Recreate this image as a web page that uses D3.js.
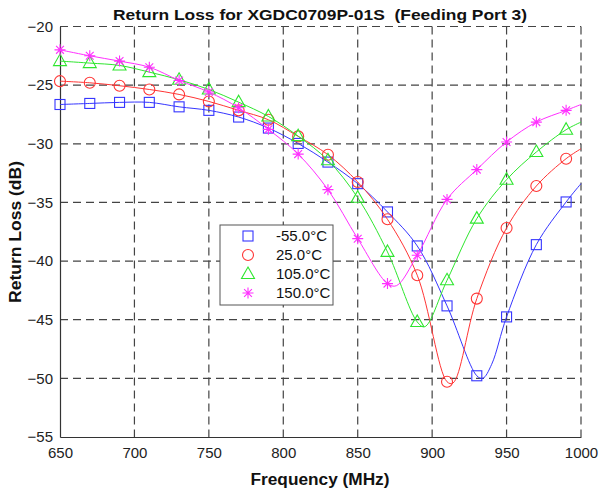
<!DOCTYPE html>
<html>
<head>
<meta charset="utf-8">
<script src="https://cdn.jsdelivr.net/npm/d3@7"></script>
<style>
  body { margin: 0; background: #fff; }
  text { font-family: "Liberation Sans", Arial, sans-serif; }
</style>
</head>
<body>
<svg id="chart" width="599" height="493"></svg>
<script>

// frequencies where markers are drawn (MHz)
let freqs = [650, 670, 690, 710, 730, 750, 770, 790, 810, 830, 850, 870, 890, 910, 930, 950, 970, 990];
let tempLabels = ['-55.0°C', '25.0°C', '105.0°C', '150.0°C'];

// return loss (dB) at the marker frequencies
let rlMinus55 = [-26.65, -26.56, -26.47, -26.47, -26.85, -27.15, -27.72, -28.66, -29.97, -31.56, -33.40, -35.81, -38.71, -43.82, -49.78, -44.76, -38.60, -34.96];
let rl25      = [-24.66, -24.80, -25.05, -25.37, -25.79, -26.39, -27.15, -27.95, -29.37, -30.93, -33.26, -36.44, -41.21, -50.29, -43.20, -37.18, -33.60, -31.27];
let rl105     = [-22.95, -23.12, -23.32, -23.89, -24.54, -25.37, -26.45, -27.67, -29.35, -31.41, -34.60, -39.22, -45.19, -41.64, -36.38, -33.06, -30.70, -28.80];
let rl150     = [-21.99, -22.50, -22.95, -23.47, -24.60, -25.59, -26.93, -28.77, -30.88, -33.91, -38.09, -41.92, -39.50, -34.74, -32.20, -29.85, -28.15, -27.15];

// extra trace points between markers (dips and the 1000 MHz end)
let extraMinus55 = [[934, -50.0], [940, -48.8], [1000, -33.4]];
let extra25      = [[914, -50.4], [1000, -30.42]];
let extra105     = [[895, -45.6], [1000, -28.15]];
let extra150     = [[876, -42.1], [1000, -26.65]];

let xTicks = [650, 700, 750, 800, 850, 900, 950, 1000];
let yTicks = [-20, -25, -30, -35, -40, -45, -50, -55];

let colors = ['#3535ff', '#ff3535', '#2ee62e', '#ff30ff'];
let shapes = ['square', 'circle', 'triangle', 'star'];

let svg = d3.select('#chart');

let x = d3.scaleLinear().domain([650, 1000]).range([60, 581]);
let y = d3.scaleLinear().domain([-20, -55]).range([26.5, 437]);

// grid (dashed), top and right edges are dashed too
let grid = svg.append('g').attr('class', 'grid');
grid.selectAll('line.v')
  .data(xTicks.slice(1))
  .enter().append('line')
  .attr('x1', d => x(d)).attr('x2', d => x(d))
  .attr('y1', y(-20)).attr('y2', y(-55))
  .attr('stroke', '#444').attr('stroke-width', 1.2)
  .attr('stroke-dasharray', '8,5');
grid.selectAll('line.h')
  .data(yTicks.slice(0, -1))
  .enter().append('line')
  .attr('x1', x(650)).attr('x2', x(1000))
  .attr('y1', d => y(d)).attr('y2', d => y(d))
  .attr('stroke', '#444').attr('stroke-width', 1.2)
  .attr('stroke-dasharray', '8,5');

// axes
let xAxis = d3.axisBottom(x).tickValues(xTicks).tickFormat(d3.format('d')).tickSize(0).tickPadding(10);
let yAxis = d3.axisLeft(y).tickValues(yTicks).tickFormat(d3.format('d')).tickSize(0).tickPadding(7);

let gx = svg.append('g').attr('transform', 'translate(0,' + y(-55) + ')').call(xAxis);
let gy = svg.append('g').attr('transform', 'translate(' + x(650) + ',0)').call(yAxis);
[gx, gy].forEach(function(g) {
  g.select('.domain').attr('stroke', '#333').attr('stroke-width', 1.2);
  g.selectAll('text')
    .style('font-family', '"Liberation Sans", Arial, sans-serif')
    .style('font-size', '15px')
    .attr('fill', '#222');
});

// curves
let series = [
  { vals: rlMinus55, extra: extraMinus55 },
  { vals: rl25, extra: extra25 },
  { vals: rl105, extra: extra105 },
  { vals: rl150, extra: extra150 }
];

let line = d3.line()
  .x(d => x(d[0]))
  .y(d => y(d[1]))
  .curve(d3.curveCatmullRom.alpha(0.5));

let plot = svg.append('g');

function drawMarker(g, shape, color, cx, cy) {
  if (shape == 'square') {
    g.append('rect')
      .attr('x', cx - 5).attr('y', cy - 5).attr('width', 10).attr('height', 10)
      .attr('fill', 'none').attr('stroke', color).attr('stroke-width', 1.1);
  } else if (shape == 'circle') {
    g.append('circle')
      .attr('cx', cx).attr('cy', cy).attr('r', 5.5)
      .attr('fill', 'none').attr('stroke', color).attr('stroke-width', 1.1);
  } else if (shape == 'triangle') {
    g.append('path')
      .attr('d', 'M' + cx + ',' + (cy - 7) + 'L' + (cx + 6.5) + ',' + (cy + 4.5) + 'L' + (cx - 6.5) + ',' + (cy + 4.5) + 'Z')
      .attr('fill', 'none').attr('stroke', color).attr('stroke-width', 1.1);
  } else {
    let r = 5.5, q = 3.9;
    g.append('path')
      .attr('d', 'M' + (cx - r) + ',' + cy + 'H' + (cx + r) +
                 'M' + cx + ',' + (cy - r) + 'V' + (cy + r) +
                 'M' + (cx - q) + ',' + (cy - q) + 'L' + (cx + q) + ',' + (cy + q) +
                 'M' + (cx - q) + ',' + (cy + q) + 'L' + (cx + q) + ',' + (cy - q))
      .attr('fill', 'none').attr('stroke', color).attr('stroke-width', 1.1);
  }
}

series.forEach(function(s, i) {
  let pts = freqs.map((f, j) => [f, s.vals[j]]).concat(s.extra);
  pts.sort((a, b) => a[0] - b[0]);

  plot.append('path')
    .datum(pts)
    .attr('d', line)
    .attr('fill', 'none')
    .attr('stroke', colors[i])
    .attr('stroke-width', 1);

  let mg = plot.append('g');
  freqs.forEach(function(f, j) {
    drawMarker(mg, shapes[i], colors[i], x(f), y(s.vals[j]));
  });
});

// legend
let legend = svg.append('g');
legend.append('rect')
  .attr('x', 220).attr('y', 225).attr('width', 113).attr('height', 80)
  .attr('fill', '#fff').attr('stroke', '#555').attr('stroke-width', 1);

tempLabels.forEach(function(label, i) {
  let ly = 236 + i * 19;
  drawMarker(legend, shapes[i], colors[i], 248, ly);
  legend.append('text')
    .attr('x', 276).attr('y', ly + 5)
    .style('font-size', '15px')
    .attr('fill', '#111')
    .text(label);
});

// titles (text is a bit wider in the original, so stretch to its width)
svg.append('text')
  .attr('x', 320).attr('y', 20)
  .attr('text-anchor', 'middle')
  .attr('xml:space', 'preserve')
  .style('white-space', 'pre')
  .attr('textLength', 414).attr('lengthAdjust', 'spacingAndGlyphs')
  .style('font-size', '15px').style('font-weight', 'bold')
  .attr('fill', '#111')
  .text('Return Loss for XGDC0709P-01S  (Feeding Port 3)');

svg.append('text')
  .attr('x', 320).attr('y', 485)
  .attr('text-anchor', 'middle')
  .attr('textLength', 139).attr('lengthAdjust', 'spacingAndGlyphs')
  .style('font-size', '16px').style('font-weight', 'bold')
  .attr('fill', '#111')
  .text('Frequency (MHz)');

svg.append('text')
  .attr('transform', 'translate(21,232) rotate(-90)')
  .attr('text-anchor', 'middle')
  .attr('textLength', 142).attr('lengthAdjust', 'spacingAndGlyphs')
  .style('font-size', '16px').style('font-weight', 'bold')
  .attr('fill', '#111')
  .text('Return Loss (dB)');

</script>
</body>
</html>
